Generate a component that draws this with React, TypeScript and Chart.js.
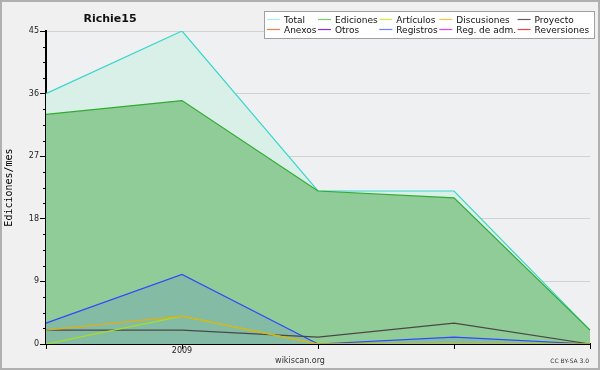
import React, { useEffect, useRef } from "react";
import { Chart, registerables } from "chart.js";

Chart.register(...registerables);

// ---- data ----
const months = ["2008-12", "2009-01", "2009-02", "2009-03", "2009-04"];
const total = [36, 45, 22, 22, 2];
const ediciones = [33, 35, 22, 21, 2];
const articulos = [0, 4, 0, 0, 0];
const discusiones = [2, 4, 0, 0, 0];
const proyecto = [2, 2, 1, 3, 0];
const registros = [3, 10, 0, 1, 0];
const yMajorTicks = [0, 9, 18, 27, 36, 45];
const yMinorStep = 2.25;

const legendLabels = [
  "Total", "Ediciones", "Artículos", "Discusiones", "Proyecto",
  "Anexos", "Otros", "Registros", "Reg. de adm.", "Reversiones",
];
const legendColors = [
  "#a6ecea", "#78cc78", "#c8f040", "#f8c840", "#606060",
  "#f08040", "#8030e0", "#7080ff", "#e040f0", "#f04040",
];

const titleText = "Richie15";
const yTitle = "Ediciones/mes";
const footerCenter = "wikiscan.org";
const footerRight = "CC BY-SA 3.0";

const FONT = "DejaVu Sans";

const decorPlugin = {
  id: "decor",
  beforeDraw(chart: any) {
    const { ctx, width, height, chartArea } = chart;
    ctx.save();
    ctx.fillStyle = "#f0f0f0";
    ctx.fillRect(0, 0, width, height);
    ctx.fillStyle = "#eff0f2";
    ctx.fillRect(chartArea.left, chartArea.top, chartArea.right - chartArea.left, chartArea.bottom - chartArea.top);
    ctx.restore();
  },
  afterDraw(chart: any) {
    const { ctx, width, height, chartArea } = chart;
    const y = chart.scales.y;
    ctx.save();
    // minor ticks
    ctx.strokeStyle = "#000";
    ctx.lineWidth = 1;
    const n = Math.round(45 / yMinorStep);
    for (let i = 0; i <= n; i++) {
      if (i % 4 === 0) continue;
      const py = Math.round(y.getPixelForValue(i * yMinorStep)) + 0.5;
      ctx.beginPath();
      ctx.moveTo(chartArea.left - 3, py);
      ctx.lineTo(chartArea.left, py);
      ctx.stroke();
    }
    // title
    ctx.fillStyle = "#111";
    ctx.font = `bold 11px ${FONT}`;
    ctx.textAlign = "center";
    ctx.textBaseline = "alphabetic";
    ctx.fillText(titleText, 110, 22);
    // footer
    ctx.fillStyle = "#333";
    ctx.font = `8px ${FONT}`;
    ctx.fillText(footerCenter, 300, 363);
    ctx.font = `6px ${FONT}`;
    ctx.textAlign = "right";
    ctx.fillText(footerRight, 589, 363);
    // legend
    ctx.font = `9px ${FONT}`;
    ctx.textAlign = "left";
    const cols = 5;
    const colX: number[] = [];
    let x = 267;
    for (let c = 0; c < cols; c++) {
      colX.push(x);
      const w = Math.max(
        ctx.measureText(legendLabels[c]).width,
        ctx.measureText(legendLabels[c + cols]).width
      );
      x += 17 + w + 1.5;
    }
    const boxL = 264, boxT = 11, boxR = Math.round(x + 3), boxB = 38;
    ctx.fillStyle = "#ffffff";
    ctx.fillRect(boxL, boxT, boxR - boxL, boxB - boxT);
    ctx.strokeStyle = "#a0a0a0";
    ctx.strokeRect(boxL + 0.5, boxT + 0.5, boxR - boxL, boxB - boxT);
    for (let i = 0; i < legendLabels.length; i++) {
      const c = i % cols;
      const r = Math.floor(i / cols);
      const ly = 19.5 + r * 10;
      ctx.strokeStyle = legendColors[i];
      ctx.lineWidth = 1.2;
      ctx.beginPath();
      ctx.moveTo(colX[c], ly);
      ctx.lineTo(colX[c] + 13, ly);
      ctx.stroke();
      ctx.fillStyle = "#111";
      ctx.fillText(legendLabels[i], colX[c] + 17, 23 + r * 10);
    }
    // outer border
    ctx.strokeStyle = "#b0b0b0";
    ctx.lineWidth = 2;
    ctx.strokeRect(1, 1, width - 2, height - 2);
    ctx.restore();
  },
};

function line(label: string, data: number[], color: string, order: number, fill: any = false, bg = "transparent") {
  return {
    label, data, borderColor: color, backgroundColor: bg, fill, order,
    borderWidth: 1.2, pointRadius: 0, tension: 0,
  };
}

export default function App() {
  const ref = useRef<HTMLCanvasElement>(null);
  useEffect(() => {
    if (!ref.current) return;
    const chart = new Chart(ref.current, {
      type: "line",
      data: {
        labels: months,
        datasets: [
          line("Total", total, "#3cd6cc", 6, "origin", "#d9f0e8"),
          line("Ediciones", ediciones, "#30aa30", 5, "origin", "#90cc98"),
          line("Registros", registros, "#3048ff", 4, "origin", "rgba(48,64,255,0.12)"),
          line("Proyecto", proyecto, "#484848", 3),
          line("Artículos", articulos, "#a8e020", 2),
          line("Discusiones", discusiones, "#e0b010", 1),
        ] as any,
      },
      options: {
        animation: false,
        responsive: false,
        devicePixelRatio: 1,
        layout: { padding: { top: 31, right: 10, left: 0, bottom: 0 } },
        plugins: { legend: { display: false }, title: { display: false }, tooltip: { enabled: false } },
        font: { family: FONT },
        scales: {
          x: {
            type: "category",
            offset: false,
            afterFit: (s: any) => { s.height = 26; },
            grid: { drawOnChartArea: false, tickLength: 5, tickColor: "#000" },
            border: { color: "#000", width: 2 },
            ticks: {
              autoSkip: false, maxRotation: 0, padding: -3,
              color: "#222", font: { family: FONT, size: 8 },
              callback: (_v: any, i: number) => (months[i].endsWith("-01") ? months[i].slice(0, 4) : ""),
            },
          },
          y: {
            min: 0, max: 45, z: 1,
            afterFit: (s: any) => { s.width = 46; },
            afterBuildTicks: (s: any) => { s.ticks = yMajorTicks.map((v) => ({ value: v })); },
            grid: { color: "rgba(0,0,0,0.13)", tickLength: 6, tickColor: "#000" },
            border: { color: "#000", width: 2 },
            ticks: { padding: 1, color: "#222", font: { family: FONT, size: 8 } },
            title: { display: true, text: yTitle, color: "#000", font: { family: "DejaVu Sans Mono", size: 10 }, padding: { top: 3, bottom: 0 } },
          },
        },
      } as any,
      plugins: [decorPlugin],
    });
    return () => chart.destroy();
  }, []);
  return (
    <div style={{ position: "fixed", left: 0, top: 0, width: 600, height: 370 }}>
      <canvas ref={ref} width={600} height={370} style={{ display: "block" }} />
    </div>
  );
}
